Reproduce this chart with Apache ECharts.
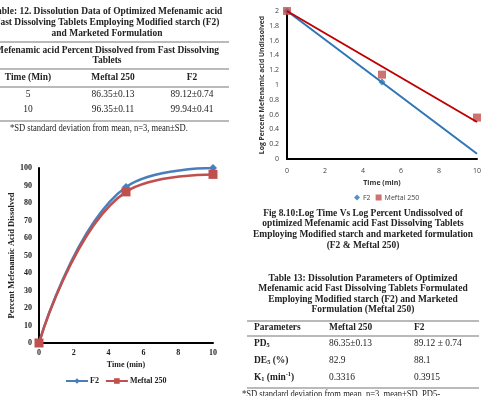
<!DOCTYPE html>
<html>
<head>
<meta charset="utf-8">
<script src="https://cdn.jsdelivr.net/npm/echarts@6.0.0/dist/echarts.min.js"></script>
<style>
  html, body { margin: 0; padding: 0; background: #fff; }
  #page { width: 484px; height: 396px; }
</style>
</head>
<body>
<div id="page"></div>
<script>
// dissolution data (Table 12 / left chart)
const times = [0, 5, 10];
const dissolvedF2 = [0, 89.12, 99.94];
const dissolvedMeftal = [0, 86.35, 96.35];

// log percent undissolved (right chart)
const logF2 = [2, 1.04];
const logMeftal = [2, 1.14, 0.56];
const trendTimes = [0, 10];
const trendF2 = [2, 0.07];
const trendMeftal = [2, 0.5];

// table text
const table12Title = [
  'Table: 12. Dissolution Data of Optimized Mefenamic acid',
  'Fast Dissolving Tablets Employing Modified starch (F2)',
  'and Marketed Formulation'
];
const table12Caption = ['Mefenamic acid Percent Dissolved from Fast Dissolving', 'Tablets'];
const table12Head = ['Time (Min)', 'Meftal 250', 'F2'];
const table12Rows = [
  ['5', '86.35±0.13', '89.12±0.74'],
  ['10', '96.35±0.11', '99.94±0.41']
];
const table12Note = '*SD standard deviation from mean, n=3, mean±SD.';

const figCaption = [
  'Fig 8.10:Log Time Vs Log Percent Undissolved of',
  'optimized Mefenamic acid Fast Dissolving Tablets',
  'Employing Modified starch and marketed formulation',
  '(F2 & Meftal 250)'
];
const table13Title = [
  'Table 13: Dissolution Parameters of Optimized',
  'Mefenamic acid Fast Dissolving Tablets Formulated',
  'Employing Modified starch (F2) and Marketed',
  'Formulation (Meftal 250)'
];
const table13Head = ['Parameters', 'Meftal 250', 'F2'];
const table13Rows = [
  ['{b|PD}{sub|5}', '86.35±0.13', '89.12 ± 0.74'],
  ['{b|DE}{sub|5}{b| (%)}', '82.9', '88.1'],
  ['{b|K}{sub|1}{b| (min}{sup|-1}{b|)}', '0.3316', '0.3915']
];
const table13Note = '*SD standard deviation from mean, n=3, mean±SD, PD5-';

const serif = '"Liberation Serif", "DejaVu Serif", serif';
const sans = '"Open Sans", "Liberation Sans", sans-serif';

function txt(text, x, y, size, bold, align) {
  return {
    type: 'text', x: x, y: y, scaleX: 0.9, silent: true,
    style: {
      text: text,
      font: (bold ? 'bold ' : '') + size + 'px ' + serif,
      fill: '#222',
      textAlign: align || 'center', align: align || 'center',
      textVerticalAlign: 'middle', verticalAlign: 'middle'
    }
  };
}
function rule(x1, x2, y) {
  return {
    type: 'line', silent: true,
    shape: { x1: x1, y1: y, x2: x2, y2: y },
    style: { stroke: '#777', lineWidth: 1.2 }
  };
}

const graphics = [];
// Table 12
table12Title.forEach((t, i) => graphics.push(txt(t, 107, 11 + i * 11, 10.5, true)));
graphics.push(rule(0, 229, 42));
table12Caption.forEach((t, i) => graphics.push(txt(t, 107, 50 + i * 10.5, 10.5, true)));
graphics.push(rule(0, 229, 69));
const col12 = [28, 113, 192];
table12Head.forEach((t, i) => graphics.push(txt(t, col12[i], 77, 10.5, true)));
graphics.push(rule(0, 229, 87));
table12Rows.forEach((row, r) => row.forEach((t, i) => graphics.push(txt(t, col12[i], 94 + r * 15, 10.5, false))));
graphics.push(rule(0, 229, 121));
graphics.push(txt(table12Note, 10, 128, 9.5, false, 'left'));

// Figure caption
figCaption.forEach((t, i) => graphics.push(txt(t, 363, 213 + i * 10.7, 10.5, true)));
// Table 13
table13Title.forEach((t, i) => graphics.push(txt(t, 363, 278 + i * 10.5, 10.5, true)));
graphics.push(rule(247, 479, 321));
const col13 = [254, 329, 414];
table13Head.forEach((t, i) => graphics.push(txt(t, col13[i], 327, 10.5, true, 'left')));
graphics.push(rule(247, 479, 336));
table13Rows.forEach((row, r) => {
  const y = 343 + r * 17;
  const first = txt(row[0], col13[0], y, 10.5, true, 'left');
  first.style.rich = {
    b: { font: 'bold 10.5px ' + serif, fill: '#222' },
    sub: { font: 'bold 7px ' + serif, fill: '#222', padding: [5, 0, 0, 0] },
    sup: { font: 'bold 7px ' + serif, fill: '#222', padding: [0, 0, 5, 0] }
  };
  graphics.push(first);
  graphics.push(txt(row[1], col13[1], y, 10.5, false, 'left'));
  graphics.push(txt(row[2], col13[2], y, 10.5, false, 'left'));
});
graphics.push(rule(247, 479, 388));
graphics.push(txt(table13Note, 242, 394, 9.5, false, 'left'));

const chart = echarts.init(document.getElementById('page'));

const leftLabel = { fontFamily: serif, fontWeight: 'bold', fontSize: 8, color: '#222' };
const rightLabel = { fontFamily: sans, fontSize: 7, color: '#444' };
const blackLine = { show: true, onZero: false, lineStyle: { color: '#000', width: 2 } };

chart.setOption({
  animation: false,
  backgroundColor: '#fff',
  graphic: graphics,
  grid: [
    { left: 39, top: 168, width: 174, bottom: 53 },
    { left: 287, top: 11, right: 5, bottom: 237 }
  ],
  legend: [
    {
      data: ['F2', 'Meftal 250'],
      left: 60, top: 372,
      itemWidth: 22, itemHeight: 7, itemGap: 6,
      textStyle: Object.assign({}, leftLabel, { padding: [0, 0, 0, -3] })
    },
    {
      data: ['F2 (log)', 'Meftal 250 (log)'],
      left: 349, top: 189,
      itemWidth: 6, itemHeight: 6, itemGap: 5,
      formatter: n => n.replace(' (log)', ''),
      textStyle: { fontFamily: sans, fontSize: 7, color: '#444', padding: [0, 0, 0, -2] }
    }
  ],
  xAxis: [
    {
      gridIndex: 0, type: 'value', min: 0, max: 10, interval: 2,
      name: 'Time (min)', nameLocation: 'middle', nameGap: 18,
      nameTextStyle: leftLabel,
      axisLine: blackLine, axisTick: { show: false }, splitLine: { show: false },
      axisLabel: Object.assign({ margin: 6 }, leftLabel)
    },
    {
      gridIndex: 1, type: 'value', min: 0, max: 10, interval: 2,
      name: 'Time (min)', nameLocation: 'middle', nameGap: 20,
      nameTextStyle: { fontFamily: sans, fontSize: 7, fontWeight: 'bold', color: '#333' },
      axisLine: blackLine, axisTick: { show: false }, splitLine: { show: false },
      axisLabel: Object.assign({ margin: 8 }, rightLabel)
    }
  ],
  yAxis: [
    {
      gridIndex: 0, type: 'value', min: 0, max: 100, interval: 10,
      name: 'Percent Mefenamic Acid Dissolved', nameLocation: 'middle', nameGap: 22,
      nameTextStyle: Object.assign({}, leftLabel, { fontSize: 8.5 }),
      axisLine: blackLine, axisTick: { show: false }, splitLine: { show: false },
      axisLabel: Object.assign({ margin: 7 }, leftLabel)
    },
    {
      gridIndex: 1, type: 'value', min: 0, max: 2, interval: 0.2,
      name: 'Log Percent Mefenamic acid Undissolved', nameLocation: 'middle', nameGap: 19,
      nameTextStyle: { fontFamily: sans, fontSize: 6.8, fontWeight: 'bold', color: '#333' },
      axisLine: blackLine, axisTick: { show: false }, splitLine: { show: false },
      axisLabel: Object.assign({ margin: 8, formatter: v => String(+v.toFixed(1)) }, rightLabel)
    }
  ],
  series: [
    {
      name: 'F2', type: 'line', xAxisIndex: 0, yAxisIndex: 0, smooth: 0.45,
      data: times.map((t, i) => [t, dissolvedF2[i]]),
      symbol: 'diamond', symbolSize: 8,
      lineStyle: { color: '#4a7ebb', width: 2.5 },
      itemStyle: { color: '#4a7ebb' }
    },
    {
      name: 'Meftal 250', type: 'line', xAxisIndex: 0, yAxisIndex: 0, smooth: 0.45,
      data: times.map((t, i) => [t, dissolvedMeftal[i]]),
      symbol: 'rect', symbolSize: 9,
      lineStyle: { color: '#c0504d', width: 2.5 },
      itemStyle: { color: '#c0504d' }
    },
    {
      name: 'F2 trend', type: 'line', xAxisIndex: 1, yAxisIndex: 1,
      data: trendTimes.map((t, i) => [t, trendF2[i]]),
      symbol: 'none', lineStyle: { color: '#2e75b6', width: 2 }
    },
    {
      name: 'Meftal 250 trend', type: 'line', xAxisIndex: 1, yAxisIndex: 1,
      data: trendTimes.map((t, i) => [t, trendMeftal[i]]),
      symbol: 'none', lineStyle: { color: '#c00000', width: 2 }
    },
    {
      name: 'F2 (log)', type: 'scatter', xAxisIndex: 1, yAxisIndex: 1,
      data: logF2.map((v, i) => [times[i], v]),
      symbol: 'diamond', symbolSize: 7,
      itemStyle: { color: '#2e75b6' }
    },
    {
      name: 'Meftal 250 (log)', type: 'scatter', xAxisIndex: 1, yAxisIndex: 1,
      data: logMeftal.map((v, i) => [times[i], v]),
      symbol: 'rect', symbolSize: 8,
      itemStyle: { color: '#c0504d' }
    }
  ]
});
</script>
</body>
</html>
